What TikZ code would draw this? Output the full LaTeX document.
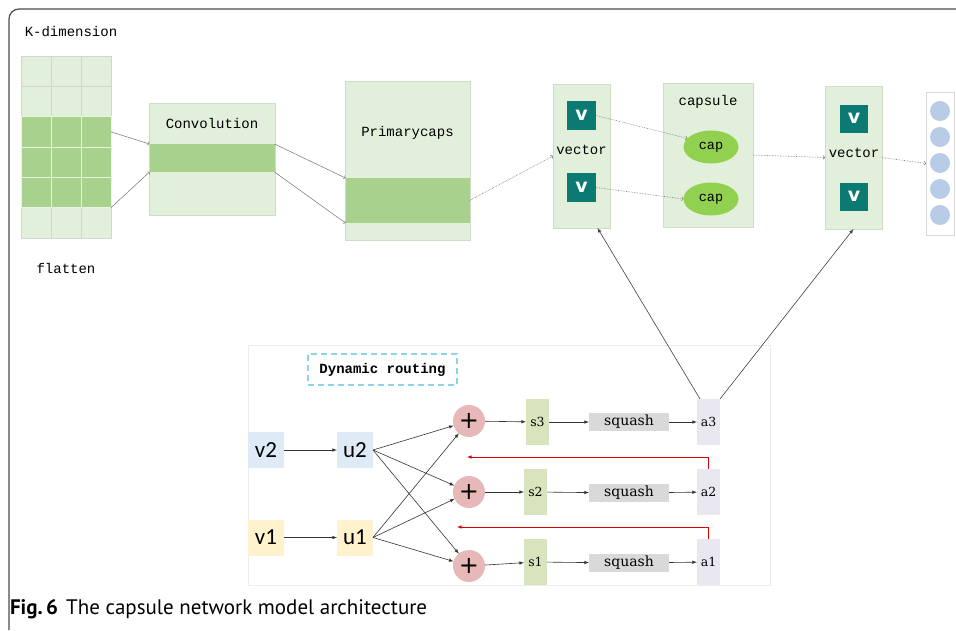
\documentclass[tikz,border=0pt]{standalone}
\usepackage{fontspec}
\setmainfont{PT Sans}
\setmonofont{Liberation Mono}
\newfontfamily\serifface{DejaVu Serif}
\newfontfamily\calface{Carlito}
\newfontfamily\vface{DejaVu Sans}
\usetikzlibrary{positioning,shapes,calc}
\usetikzlibrary{shapes.geometric, arrows}

\definecolor{lightgrn}{HTML}{E2EFDA}
\definecolor{darkgrn}{HTML}{A9D18E}
\definecolor{boxedge}{HTML}{CFDCC6}
\definecolor{tealv}{HTML}{0B7A72}
\definecolor{capgrn}{HTML}{92D050}
\definecolor{outblue}{HTML}{B8CCE6}
\definecolor{plusred}{HTML}{E6B8B7}
\definecolor{sgrn}{HTML}{D8E4BC}
\definecolor{sqgray}{HTML}{D9D9D9}
\definecolor{alav}{HTML}{E9E7F0}
\definecolor{vblue}{HTML}{DEEBF7}
\definecolor{vyel}{HTML}{FFF2CC}
\definecolor{dynblue}{HTML}{8ED3E8}

\begin{document}
\begin{tikzpicture}[x=1pt, y=-1pt,
    every node/.style={inner sep=0pt, outer sep=0pt},
    cell/.style={rectangle, draw=black!17, line width=0.7pt, minimum width=30pt, minimum height=30.33pt},
    layer/.style={rectangle, fill=lightgrn, draw=boxedge, line width=0.7pt},
    band/.style={rectangle, fill=darkgrn},
    vsq/.style={rectangle, fill=tealv, minimum size=29pt, text=white, font=\vface\bfseries\fontsize{19}{19}\selectfont},
    capnode/.style={ellipse, fill=capgrn, minimum width=55pt, minimum height=33pt, font=\ttfamily\fontsize{13.5}{13.5}\selectfont},
    mono/.style={font=\ttfamily\fontsize{14}{14}\selectfont},
    inbox/.style={rectangle, minimum size=36pt, font=\calface\fontsize{23}{23}\selectfont},
    plusnode/.style={circle, fill=plusred, minimum size=32pt, font=\vface\fontsize{24}{24}\selectfont},
    sbox/.style={rectangle, fill=sgrn, minimum width=23pt, minimum height=46pt, font=\serifface\fontsize{12.5}{12.5}\selectfont},
    abox/.style={rectangle, fill=alav, minimum width=23pt, minimum height=46pt, font=\serifface\fontsize{12.5}{12.5}\selectfont},
    sqbox/.style={rectangle, fill=sqgray, minimum width=80pt, minimum height=18pt, font=\serifface\fontsize{14}{14}\selectfont},
    upflow/.style={->, draw=black!55, line width=0.5pt},
    dotflow/.style={->, draw=black!55, line width=0.6pt, densely dotted},
    route/.style={-latex, draw=black!80, line width=0.6pt}
  ]
  \useasboundingbox (0,0) rectangle (956,630);
  % outer frame
  \draw[black!70, line width=1.2pt, rounded corners=10pt] (956,9) -- (9,9) -- (9,630);

  % flatten grid
  \node[mono] (kdim) at (71,32) {K-dimension};
  \foreach \r in {0,1,5}
    \foreach \c in {0,1,2}
      \node[cell, fill=lightgrn] (c\r\c) at ({36+30*\c},{71.17+30.33*\r}) {};
  \foreach \r in {2,3,4}
    \foreach \c in {0,1,2}
      \node[cell, fill=darkgrn, draw=white!75!darkgrn] (c\r\c) at ({36+30*\c},{71.17+30.33*\r}) {};
  \node[mono] (flat) at (66,268) {flatten};

  % convolution
  \node[layer, minimum width=126pt, minimum height=112pt] (conv) at (212,159) {};
  \node[band, minimum width=125pt, minimum height=28pt] (convband) at (212,158) {};
  \node[mono] at (212,123) {Convolution};
  \draw[upflow] (c22.east) -- (convband.north west);
  \draw[upflow] (c42.south east) -- (convband.south west);

  % primary capsules
  \node[layer, minimum width=125pt, minimum height=159pt] (prim) at (407.5,160.5) {};
  \node[band, minimum width=124pt, minimum height=45pt] (primband) at (407.5,200.5) {};
  \node[mono] at (407.5,133) {Primarycaps};
  \draw[upflow] (convband.north east) -- (primband.north west);
  \draw[upflow] (convband.south east) -- (primband.south west);

  % first vector layer
  \node[layer, minimum width=57pt, minimum height=144pt] (vec1) at (581.5,156) {};
  \node[vsq] (vA) at (581.5,115.5) {v};
  \node[vsq] (vB) at (581.5,187.5) {v};
  \node[mono] at (581.5,150) {vector};
  \draw[dotflow] (primband.east) -- (vec1.west);

  % capsules
  \node[layer, minimum width=90pt, minimum height=144pt] (capbox) at (708,155) {};
  \node[mono] at (708,102) {capsule};
  \node[capnode] (capA) at (711,147) {cap};
  \node[capnode] (capB) at (711,199) {cap};
  \draw[dotflow] (vA.east) -- (capA.160);
  \draw[dotflow] (vB.east) -- (capB.west);

  % second vector layer
  \node[layer, minimum width=57pt, minimum height=143pt] (vec2) at (853.5,157.5) {};
  \node[vsq, minimum size=28pt] (vC) at (854,118.5) {v};
  \node[vsq, minimum size=28pt] (vD) at (854,196.5) {v};
  \node[mono] at (854,153) {vector};
  \draw[dotflow] (capbox.east) -- (vec2.west);

  % output
  \node[rectangle, fill=white, draw=black!15, line width=0.8pt, minimum width=28pt, minimum height=143pt] (outbox) at (940,163.5) {};
  \foreach \k in {0,...,4}
    \node[circle, fill=outblue, minimum size=20pt] (o\k) at (940,{111+26*\k}) {};
  \draw[dotflow] (vec2.east) -- (outbox.west);

  % dynamic routing panel
  \node[rectangle, draw=black!7, line width=0.8pt, minimum width=522pt, minimum height=240pt] (panel) at (509,465) {};
  \node[mono, font=\ttfamily\bfseries\fontsize{14}{14}\selectfont, draw=dynblue, dashed, dash pattern=on 6pt off 4pt, line width=1.3pt, minimum width=149pt, minimum height=31pt] (dyn) at (382.5,369.5) {Dynamic routing};

  \node[inbox, fill=vblue] (v2) at (266,450) {v2};
  \node[inbox, fill=vblue] (u2) at (355,450) {u2};
  \node[inbox, fill=vyel] (v1) at (266,537.5) {v1};
  \node[inbox, fill=vyel] (u1) at (355,537.5) {u1};

  \node[plusnode] (pl3) at (469,421) {+};
  \node[plusnode] (pl2) at (469,492) {+};
  \node[plusnode] (pl1) at (469,566) {+};

  \node[sbox] (s3) at (537.5,422) {s3};
  \node[sbox] (s2) at (535.5,492) {s2};
  \node[sbox] (s1) at (535.5,562) {s1};

  \node[sqbox] (sq3) at (629,422) {squash};
  \node[sqbox] (sq2) at (629,493) {squash};
  \node[sqbox] (sq1) at (629,563) {squash};

  \node[abox] (a3) at (708.5,422) {a3};
  \node[abox] (a2) at (708.5,492) {a2};
  \node[abox] (a1) at (708.5,562) {a1};

  \draw[route] (v2) -- (u2);
  \draw[route] (v1) -- (u1);
  \foreach \p in {pl3,pl2,pl1} {
    \draw[route] (u2.east) -- (\p);
    \draw[route] (u1.east) -- (\p);
  }
  \foreach \i in {1,2,3} {
    \draw[route] (pl\i) -- (s\i);
    \draw[route] (s\i) -- (sq\i);
    \draw[route] (sq\i) -- (a\i);
  }

  % feedback
  \coordinate (fb2) at (467,457);
  \coordinate (fb1) at (457,527);
  \draw[-latex, red!85!black, line width=0.6pt] (a2.north) |- (fb2);
  \draw[-latex, red!85!black, line width=0.6pt] (a1.north) |- (fb1);

  % outputs to vector layers
  \draw[-latex, black!75, line width=0.6pt] ([xshift=3pt]a3.north west) -- ([xshift=16pt]vec1.south);
  \draw[-latex, black!75, line width=0.6pt] (a3.north east) -- (vec2.south);

  % caption
  \node[anchor=west, font=\fontsize{21}{21}\selectfont] (cap) at (10,609) {\textbf{Fig.\,6}\hspace{8pt}The capsule network model architecture};
\end{tikzpicture}
\end{document}
